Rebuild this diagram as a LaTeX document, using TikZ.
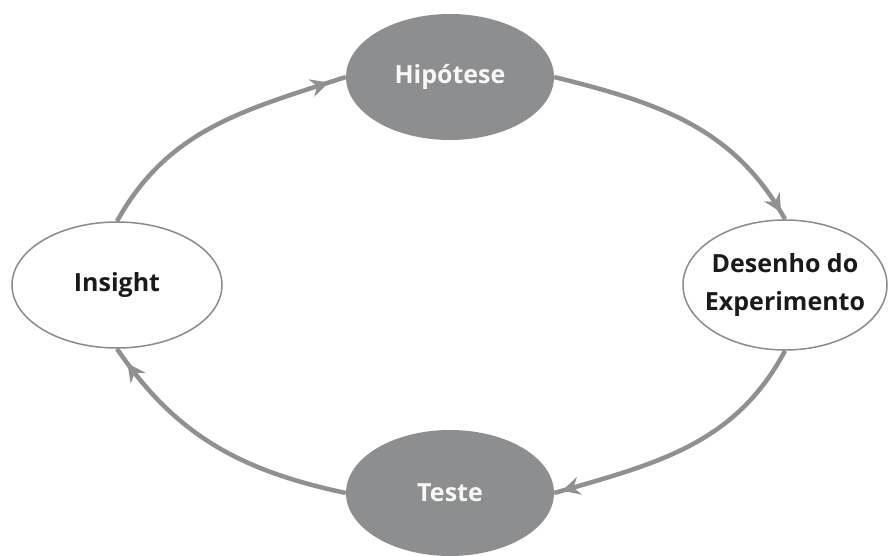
\documentclass[tikz,border=0pt]{standalone}
\usepackage{fontspec}
\setmainfont{Open Sans}
\usetikzlibrary{shapes.geometric,arrows.meta,decorations.markings}
\definecolor{cyclegray}{HTML}{8C8E90}
\definecolor{arcgray}{HTML}{8E9092}
\definecolor{rimgray}{HTML}{8A8A8A}
\definecolor{lighttext}{HTML}{F7F7F7}
\definecolor{darktext}{HTML}{1A1A1A}
\tikzset{
  stage/.style={ellipse, inner sep=-10pt, minimum width=208pt, minimum height=126pt,
    font=\fontsize{25}{38}\selectfont\bfseries, align=center},
  darkstage/.style={stage, fill=cyclegray, text=lighttext},
  lightstage/.style={stage, draw=rimgray, line width=1.5pt, fill=white, text=darktext},
  cyclearc/.style={draw=arcgray, line width=4.5pt,
    postaction={decorate, decoration={markings,
      mark=at position -#1 with {\arrow[arcgray]{Stealth[length=18pt,width=18pt,inset=6pt]}}}}},
}
\begin{document}
\begin{tikzpicture}[x=1pt,y=1pt]
  \useasboundingbox (0,0) rectangle (888,555);
  \fill[white] (0,0) rectangle (888,555);

  % stages of the cycle
  \node[darkstage]  (hip) at (450,478) {Hipótese};
  \node[lightstage, minimum width=204pt, minimum height=130pt] (des) at (785,270) {Desenho do\\Experimento};
  \node[darkstage]  (tes) at (450,62) {Teste};
  \node[lightstage, minimum width=210pt] (ins) at (117,270) {Insight};

  % connecting arcs
  \draw[cyclearc=18pt] (ins.north) to[out=61, in=198] (hip.west);
  \draw[cyclearc=8pt]  (hip.east) to[out=-14, in=119] (des.north);
  \draw[cyclearc=8pt]  (des.south) to[out=242, in=16] (tes.east);
  \draw[cyclearc=18pt] (tes.west) to[out=168, in=304] (ins.south);
\end{tikzpicture}
\end{document}
